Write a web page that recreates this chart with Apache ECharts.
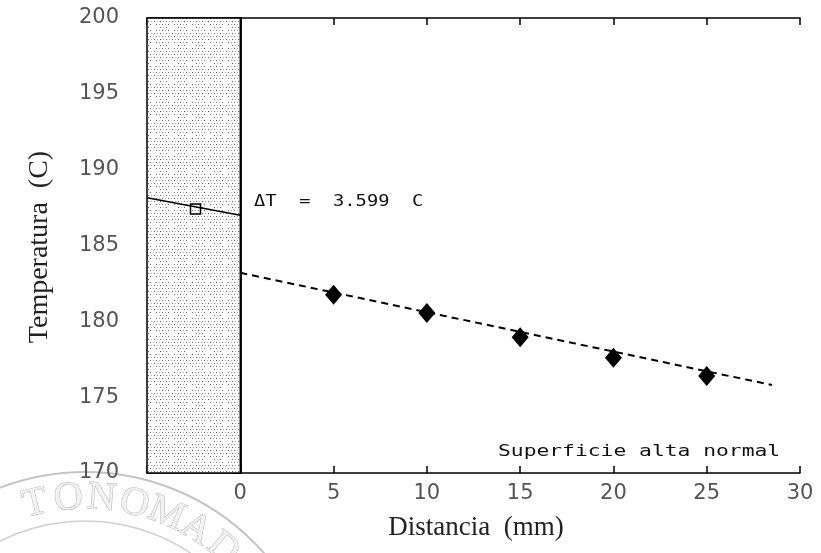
<!DOCTYPE html>
<html>
<head>
<meta charset="utf-8">
<script src="https://cdn.jsdelivr.net/npm/echarts@6/dist/echarts.min.js"></script>
<style>
  html, body { margin: 0; padding: 0; background: #fff; }
  #chart { width: 821px; height: 553px; }
</style>
</head>
<body>
<div id="chart"></div>
<script>
// mediciones (distancia mm, temperatura C)
var distancias = [5, 10, 15, 20, 25];
var temperaturas = [181.75, 180.55, 178.95, 177.6, 176.4];
// recta de ajuste (punteada)
var ajusteX = [0, 28.5];
var ajusteY = [183.2, 175.8];
// perfil dentro de la pared
var paredX = [-5, 0];
var paredY = [188.15, 187.0];
var puntoPared = [-2.4, 187.4];
var pared = [-5, 0];
var xTicks = [-5, 0, 5, 10, 15, 20, 25, 30];
var yTicks = [170, 175, 180, 185, 190, 195, 200];

// patron punteado de la zona sombreada
function makePattern(){
  var c = document.createElement('canvas');
  c.width = 18; c.height = 18;
  var ctx = c.getContext('2d');
  ctx.fillStyle = '#fff';
  ctx.fillRect(0,0,18,18);
  for (var i = 0; i < 18; i += 3) {
    for (var j = 0; j < 18; j += 3) {
      var dx = i - 9, dy = j - 9;
      if (dx*dx + dy*dy < 14) continue; // huecos claros
      ctx.fillStyle = ((i + j) % 6 == 0) ? '#666' : '#aaa';
      ctx.fillRect(i + ((j/3)%2), j, 1, 1);
    }
  }
  return c;
}

// sello de fondo: letras sobre un arco
function sello(){
  var word = 'TONOMAD';
  var cx = 85, cy = 710;
  var out = [
    { type: 'circle', shape: { cx: cx, cy: cy, r: 238 }, silent: true, z: -1,
      style: { fill: 'none', stroke: '#c4c4c4', lineWidth: 2 } },
    { type: 'circle', shape: { cx: cx, cy: cy, r: 189 }, silent: true, z: -1,
      style: { fill: 'none', stroke: '#d0d0d0', lineWidth: 1.5 } }
  ];
  for (var k = 0; k < word.length; k++) {
    var a = (-13.5 + k * 9) * Math.PI / 180;
    out.push({
      type: 'text', silent: true, z: -1,
      x: cx + 212 * Math.sin(a), y: cy - 212 * Math.cos(a), rotation: -a,
      style: { text: word[k], fontFamily: 'Liberation Serif', fontSize: 40, align: 'center', verticalAlign: 'middle',
               fill: '#f2f2f2', stroke: '#b4b4b4', lineWidth: 1 }
    });
  }
  return out;
}

var myChart = echarts.init(document.getElementById('chart'));
var tickFont = { color: '#555', fontSize: 21, fontFamily: 'DejaVu Sans' };
var option = {
  animation: false,
  grid: { left: 147, right: 21, top: 18, bottom: 80 },
  xAxis: [{
    type: 'value', min: xTicks[0], max: xTicks[xTicks.length-1], interval: 5,
    axisLine: { lineStyle: { color: '#000', width: 1.5 } },
    axisTick: { inside: true, length: 7, lineStyle: { color: '#000', width: 1.5 } },
    axisLabel: Object.assign({ margin: 10, formatter: function(v){ return v < 0 ? '' : v; } }, tickFont),
    splitLine: { show: false }
  }, {
    type: 'value', position: 'top', min: xTicks[0], max: xTicks[xTicks.length-1], interval: 5,
    axisLine: { lineStyle: { color: '#000', width: 1.5 } },
    axisTick: { inside: true, length: 7, lineStyle: { color: '#000', width: 1.5 } },
    axisLabel: { show: false }, splitLine: { show: false }
  }],
  yAxis: [{
    type: 'value', min: yTicks[0], max: yTicks[yTicks.length-1], interval: 5,
    axisLine: { lineStyle: { color: '#000', width: 1.5 } },
    axisTick: { inside: false, length: 8, lineStyle: { color: '#000', width: 1.5 } },
    axisLabel: Object.assign({ margin: 28 }, tickFont),
    splitLine: { show: false }
  }, {
    type: 'value', position: 'right', min: yTicks[0], max: yTicks[yTicks.length-1], interval: 5,
    axisLine: { lineStyle: { color: '#000', width: 1.5 } },
    axisTick: { inside: true, length: 7, lineStyle: { color: '#000', width: 1.5 } },
    axisLabel: { show: false }, splitLine: { show: false }
  }],
  series: [
    {
      type: 'line', data: [], silent: true,
      markArea: {
        silent: true,
        itemStyle: { color: { image: makePattern(), repeat: 'repeat' }, borderColor: '#000', borderWidth: 1.5, opacity: 1 },
        data: [[{ xAxis: pared[0], yAxis: yTicks[0] }, { xAxis: pared[1], yAxis: yTicks[yTicks.length-1] }]]
      }
    },
    {
      type: 'line', data: paredX.map(function(x,i){ return [x, paredY[i]]; }),
      symbol: 'none', lineStyle: { color: '#000', width: 1.5 }, z: 3
    },
    {
      type: 'scatter', data: [puntoPared], symbol: 'rect', symbolSize: 10,
      itemStyle: { color: 'rgba(255,255,255,0)', borderColor: '#000', borderWidth: 1.5, opacity: 1 }, z: 4
    },
    {
      type: 'line', data: ajusteX.map(function(x,i){ return [x, ajusteY[i]]; }),
      symbol: 'none', lineStyle: { color: '#000', width: 2, type: [7, 5] }, z: 3
    },
    {
      type: 'scatter', data: distancias.map(function(x,i){ return [x, temperaturas[i]]; }),
      symbol: 'diamond', symbolSize: [17, 20], itemStyle: { color: '#000', opacity: 1 }, z: 5
    }
  ],
  graphic: sello().concat([
    {
      type: 'text', left: 254, top: 193, scaleX: 1.25, scaleY: 1.1,
      style: { text: 'ΔT  =  3.599  C', fontFamily: 'DejaVu Sans Mono', fontSize: 15, fill: '#111' }
    },
    {
      type: 'text', left: 498, top: 443, scaleX: 1.42, scaleY: 1.1,
      style: { text: 'Superficie alta normal', fontFamily: 'DejaVu Sans Mono', fontSize: 15, fill: '#111' }
    },
    {
      type: 'text', x: 476, y: 528,
      style: { text: 'Distancia  (mm)', fontFamily: 'Liberation Serif', fontSize: 27, fill: '#222',
               align: 'center', verticalAlign: 'middle' }
    },
    {
      type: 'text', x: 40, y: 247, rotation: Math.PI / 2,
      style: { text: 'Temperatura  (C)', fontFamily: 'Liberation Serif', fontSize: 28, fill: '#222',
               align: 'center', verticalAlign: 'middle' }
    }
  ])
};
myChart.setOption(option);
window.addEventListener('resize', function () {
  myChart.resize();
});
</script>
</body>
</html>
